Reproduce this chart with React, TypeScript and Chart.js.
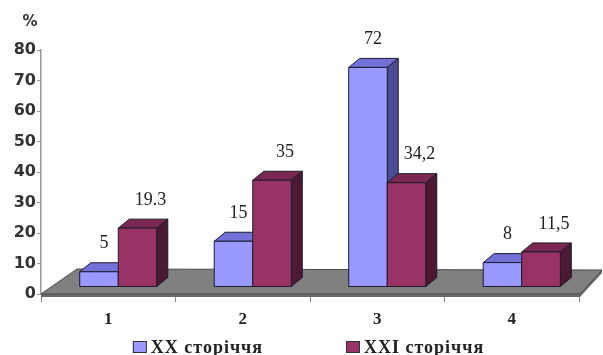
import React, { useEffect, useRef } from "react";
import { Chart, registerables } from "chart.js";

Chart.register(...registerables);

const categories = ["1", "2", "3", "4"];
const seriesNames = ["XX сторіччя", "XXI сторіччя"];
const xxValues = [5, 15, 72, 8];
const xxiValues = [19.3, 35, 34.2, 11.5];
const xxLabels = ["5", "15", "72", "8"];
const xxiLabels = ["19.3", "35", "34,2", "11,5"];
const yMin = 0;
const yMax = 80;
const yStep = 10;
const unitLabel = "%";

const FRONT = ["#9999FF", "#993366"];
const TOP = ["#7171D8", "#7A2852"];
const SIDE = ["#4B4B94", "#4C1932"];
const OUTLINE = "#1c1c2c";

// 3D styling offsets (px)
const SHIFT_X = 10;
const SHIFT_Y = 7;
const DEPTH_X = 11;
const DEPTH_Y = 9;
const LABEL_DX = [15, 23];
const LABEL_DY = -28;

const floorPlugin = {
  id: "floor3d",
  beforeDatasetsDraw(chart: any) {
    const { ctx, chartArea } = chart;
    const { left, right, bottom } = chartArea;
    ctx.save();
    ctx.beginPath();
    ctx.moveTo(left, bottom);
    ctx.lineTo(right + 1, bottom);
    ctx.lineTo(right + 23, bottom - 24);
    ctx.lineTo(right + 23, bottom - 21);
    ctx.lineTo(right + 1, bottom + 3);
    ctx.lineTo(left, bottom + 3);
    ctx.closePath();
    ctx.fillStyle = "#6a6a6a";
    ctx.fill();
    ctx.beginPath();
    ctx.moveTo(left, bottom);
    ctx.lineTo(right + 1, bottom);
    ctx.lineTo(right + 23, bottom - 24);
    ctx.lineTo(left + 36, bottom - 25);
    ctx.closePath();
    ctx.fillStyle = "#808080";
    ctx.fill();
    ctx.strokeStyle = "#4a4a4a";
    ctx.lineWidth = 1;
    ctx.stroke();
    ctx.restore();
  },
};

const bars3dPlugin = {
  id: "bars3d",
  afterDatasetsDraw(chart: any) {
    const { ctx } = chart;
    const labelSets = [xxLabels, xxiLabels];
    const nCat = chart.data.labels.length;
    ctx.save();
    ctx.lineWidth = 1;
    ctx.strokeStyle = OUTLINE;
    const tops: any[] = [];
    for (let i = 0; i < nCat; i++) {
      chart.data.datasets.forEach((_: any, d: number) => {
        const meta = chart.getDatasetMeta(d);
        const el = meta.data[i];
        if (!el) return;
        const p = el.getProps(["x", "y", "base", "width"], true);
        const l = p.x - p.width / 2 + SHIFT_X;
        const r = p.x + p.width / 2 + SHIFT_X;
        const t = p.y - SHIFT_Y;
        const b = p.base - SHIFT_Y;
        ctx.beginPath();
        ctx.moveTo(l, t);
        ctx.lineTo(r, t);
        ctx.lineTo(r + DEPTH_X, t - DEPTH_Y);
        ctx.lineTo(l + DEPTH_X, t - DEPTH_Y);
        ctx.closePath();
        ctx.fillStyle = TOP[d];
        ctx.fill();
        ctx.stroke();
        ctx.beginPath();
        ctx.moveTo(r, t);
        ctx.lineTo(r + DEPTH_X, t - DEPTH_Y);
        ctx.lineTo(r + DEPTH_X, b - DEPTH_Y);
        ctx.lineTo(r, b);
        ctx.closePath();
        ctx.fillStyle = SIDE[d];
        ctx.fill();
        ctx.stroke();
        ctx.beginPath();
        ctx.rect(l, t, r - l, b - t);
        ctx.fillStyle = FRONT[d];
        ctx.fill();
        ctx.stroke();
        tops.push({ x: p.x + LABEL_DX[d], y: t + LABEL_DY, text: labelSets[d][i] });
      });
    }
    ctx.fillStyle = "#222";
    ctx.font = "18px 'Liberation Serif', serif";
    ctx.textAlign = "center";
    ctx.textBaseline = "middle";
    tops.forEach((o) => ctx.fillText(o.text, o.x, o.y));
    ctx.restore();
  },
};

const extrasPlugin = {
  id: "extras",
  afterDraw(chart: any) {
    const { ctx, chartArea } = chart;
    ctx.save();
    ctx.fillStyle = "#333";
    ctx.font = "bold 15px 'DejaVu Sans', sans-serif";
    ctx.textAlign = "center";
    ctx.textBaseline = "middle";
    ctx.fillText(unitLabel, 30, 22);
    ctx.font = "bold 18px 'Liberation Serif', serif";
    (ctx as any).letterSpacing = "1px";
    ctx.textBaseline = "alphabetic";
    ctx.textAlign = "left";
    const boxW = 14;
    const boxH = 12;
    const gapText = 4;
    const gapItems = 83;
    const names = chart.data.datasets.map((ds: any) => ds.label);
    const widths = names.map((n: string) => boxW + gapText + ctx.measureText(n).width);
    const total = widths.reduce((a: number, b: number) => a + b, 0) + gapItems * (names.length - 1);
    const cx = (chartArea.left + chartArea.right) / 2 - 1.5;
    let x = cx - total / 2;
    const baseline = 353;
    names.forEach((n: string, i: number) => {
      ctx.fillStyle = FRONT[i];
      ctx.fillRect(x, baseline - 12, boxW, boxH);
      ctx.strokeStyle = "#333";
      ctx.lineWidth = 1;
      ctx.strokeRect(x + 0.5, baseline - 11.5, boxW - 1, boxH - 1);
      ctx.fillStyle = "#222";
      ctx.fillText(n, x + boxW + gapText, baseline);
      x += widths[i] + gapItems;
    });
    ctx.restore();
  },
};

export default function App() {
  const ref = useRef<HTMLCanvasElement>(null);
  useEffect(() => {
    if (!ref.current) return;
    const chart = new Chart(ref.current, {
      type: "bar",
      data: {
        labels: categories,
        datasets: [
          {
            label: seriesNames[0],
            data: xxValues,
            backgroundColor: "rgba(0,0,0,0)",
            borderWidth: 0,
            categoryPercentage: 0.573,
            barPercentage: 1,
          },
          {
            label: seriesNames[1],
            data: xxiValues,
            backgroundColor: "rgba(0,0,0,0)",
            borderWidth: 0,
            categoryPercentage: 0.573,
            barPercentage: 1,
          },
        ],
      },
      options: {
        responsive: false,
        animation: false,
        layout: { padding: { top: 50, right: 24, left: 0, bottom: 0 } },
        plugins: {
          legend: { display: false },
          tooltip: { enabled: false },
          title: { display: false },
        },
        scales: {
          x: {
            afterFit: (s: any) => {
              s.height = 61;
            },
            grid: {
              drawOnChartArea: false,
              drawTicks: true,
              tickLength: 8,
              color: "#888",
              offset: true,
            },
            border: { display: true, color: "#888" },
            ticks: {
              color: "#222",
              padding: 7,
              font: { family: "'Liberation Serif', serif", size: 17, weight: "bold" },
            },
          },
          y: {
            min: yMin,
            max: yMax,
            afterFit: (s: any) => {
              s.width = 41;
            },
            grid: {
              drawOnChartArea: false,
              drawTicks: true,
              tickLength: 4,
              color: "#999",
            },
            border: { display: true, color: "#999", width: 1.5 },
            ticks: {
              stepSize: yStep,
              color: "#333",
              padding: 1,
              font: { family: "'DejaVu Sans', sans-serif", size: 16, weight: "bold" },
            },
          },
        },
      },
      plugins: [floorPlugin, bars3dPlugin, extrasPlugin],
    });
    return () => chart.destroy();
  }, []);
  return (
    <div style={{ position: "fixed", left: 0, top: 0, width: 603, height: 355, background: "#fff" }}>
      <canvas ref={ref} width={603} height={355} style={{ display: "block" }} />
    </div>
  );
}
